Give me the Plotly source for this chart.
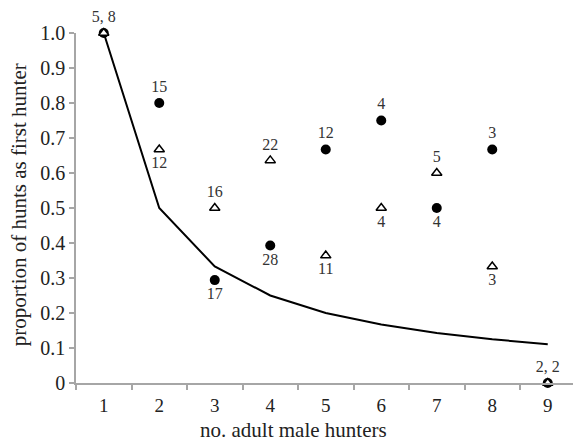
import plotly.graph_objects as go

categories = ["1", "2", "3", "4", "5", "6", "7", "8", "9"]
expected = [1.0, 0.5, 0.333, 0.25, 0.2, 0.167, 0.143, 0.125, 0.111]
circle_vals = [1.0, 0.8, 0.294, 0.393, 0.667, 0.75, 0.5, 0.667, 0.0]
circle_text = ["", "15", "17", "28", "12", "4", "4", "3", ""]
circle_pos = ["top center", "top center", "bottom center", "bottom center",
              "top center", "top center", "bottom center", "top center", "top center"]
tri_vals = [1.0, 0.667, 0.5, 0.636, 0.364, 0.5, 0.6, 0.333, 0.0]
tri_text = ["5, 8", "12", "16", "22", "11", "4", "5", "3", "2, 2"]
tri_pos = ["top center", "bottom center", "top center", "top center",
           "bottom center", "bottom center", "top center", "bottom center", "top center"]
y_ticks = [0, 0.1, 0.2, 0.3, 0.4, 0.5, 0.6, 0.7, 0.8, 0.9, 1.0]
y_tick_labels = ["0", "0.1", "0.2", "0.3", "0.4", "0.5", "0.6", "0.7", "0.8", "0.9", "1.0"]
x_title = "no. adult male hunters"
y_title = "proportion of hunts as first hunter"

FONT = "Liberation Serif"

fig = go.Figure()
fig.add_trace(go.Scatter(x=categories, y=expected, mode="lines",
                         line=dict(color="black", width=2), hoverinfo="skip"))
fig.add_trace(go.Scatter(x=categories, y=circle_vals, mode="markers+text",
                         marker=dict(symbol="circle", size=10, color="black"),
                         text=circle_text, textposition=circle_pos,
                         textfont=dict(family=FONT, size=16, color="#333")))
fig.add_trace(go.Scatter(x=categories, y=tri_vals, mode="markers+text",
                         marker=dict(symbol="triangle-up", size=9, color="white",
                                     line=dict(color="black", width=1.5)),
                         text=tri_text, textposition=tri_pos,
                         textfont=dict(family=FONT, size=16, color="#333")))

fig.update_traces(cliponaxis=False)

fig.update_layout(
    width=573, height=443,
    margin=dict(l=76, r=0, t=33, b=60),
    paper_bgcolor="white", plot_bgcolor="white",
    showlegend=False,
    font=dict(family=FONT, color="#222"),
    xaxis=dict(type="category", range=[-0.5, 8.455], tickson="boundaries",
               automargin=False,
               showgrid=False, zeroline=False,
               showline=True, linecolor="#a6a6a6", linewidth=1.5,
               ticks="outside", ticklen=5, tickcolor="#a6a6a6", tickwidth=1.5,
               ticklabelstandoff=4,
               tickfont=dict(size=19, family=FONT, color="#222")),
    yaxis=dict(range=[0, 1.0], tickvals=y_ticks, ticktext=y_tick_labels,
               automargin=False,
               showgrid=False, zeroline=False,
               showline=True, linecolor="#a6a6a6", linewidth=1.5,
               ticks="outside", ticklen=5, tickcolor="#a6a6a6", tickwidth=1.5,
               tickfont=dict(size=20, family=FONT, color="#222")),
    annotations=[
        dict(text=x_title, xref="paper", yref="paper", x=0.4386, y=-0.134,
             xanchor="center", yanchor="middle", showarrow=False,
             font=dict(size=21, family=FONT, color="#222")),
        dict(text=y_title, xref="paper", yref="paper", x=-0.1147, y=0.511,
             xanchor="center", yanchor="middle", showarrow=False, textangle=-90,
             font=dict(size=21, family=FONT, color="#222")),
    ],
)

fig.write_html("out.html", config={"displayModeBar": False},
               post_script="document.body.style.margin='0px';")
